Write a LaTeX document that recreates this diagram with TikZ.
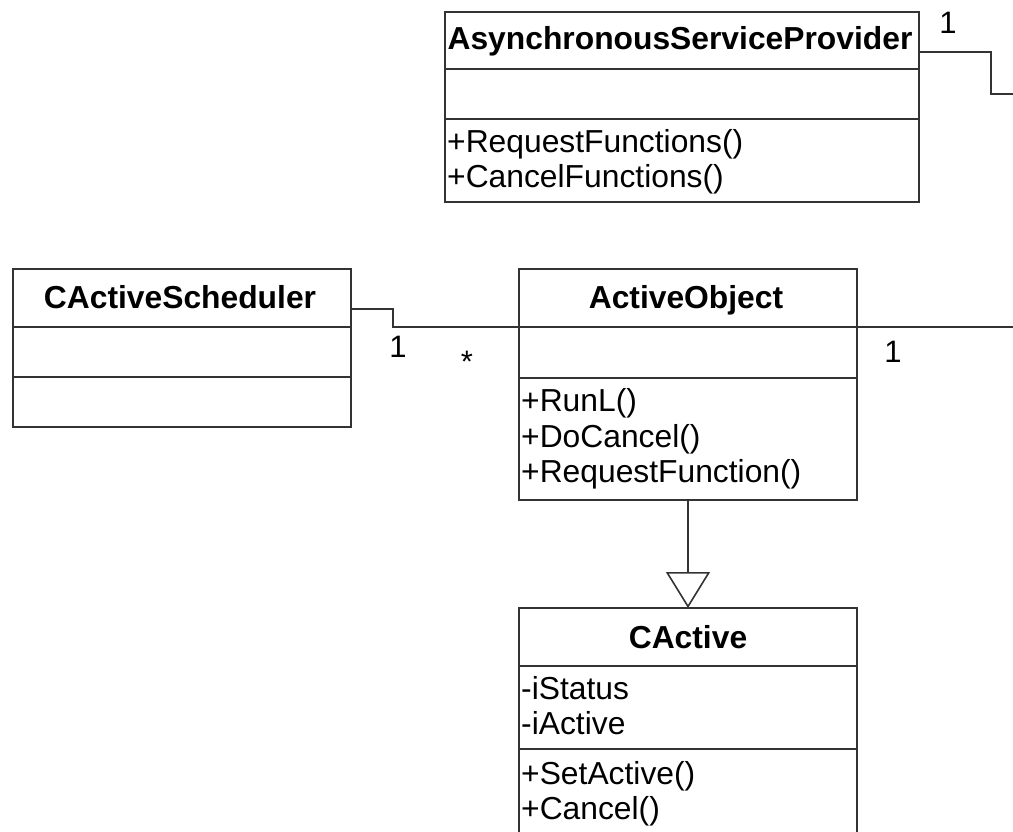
\documentclass[tikz,border=0pt]{standalone}
\usepackage{fontspec}
\setmainfont{Liberation Sans}
\usetikzlibrary{arrows.meta}
\definecolor{linegray}{HTML}{333333}
\begin{document}
\begin{tikzpicture}[x=1pt,y=-1pt,
  classbox/.style={draw=linegray, line width=1.6pt, anchor=north west,
    inner sep=0pt, outer sep=0pt},
  ctitle/.style={font=\fontsize{31.8}{36}\selectfont\bfseries, anchor=base,
    inner sep=0pt},
  member/.style={font=\fontsize{31.8}{36}\selectfont, anchor=base west,
    inner sep=0pt},
  mult/.style={font=\fontsize{31}{34}\selectfont, anchor=base, inner sep=0pt},
  link/.style={draw=linegray, line width=1.6pt},
  compartment/.style={draw=linegray, line width=1.6pt},
]
\useasboundingbox[fill=white] (0,0) rectangle (1013,831);

% ---- AsynchronousServiceProvider
\node[classbox, minimum width=474pt, minimum height=190pt] (asp) at (445,12) {};
\draw[compartment] (asp.west |- 0,69) -- (asp.east |- 0,69);
\draw[compartment] (asp.west |- 0,119) -- (asp.east |- 0,119);
\node[ctitle] (aspTitle) at (680,49) {AsynchronousServiceProvider};
\node[member] (aspM1) at (447,152) {+RequestFunctions()};
\node[member] (aspM2) at (447,187) {+CancelFunctions()};

% ---- CActiveScheduler
\node[classbox, minimum width=338pt, minimum height=158pt] (sch) at (13,269) {};
\draw[compartment] (sch.west |- 0,327) -- (sch.east |- 0,327);
\draw[compartment] (sch.west |- 0,377) -- (sch.east |- 0,377);
\node[ctitle] (schTitle) at (180,308) {CActiveScheduler};

% ---- ActiveObject
\node[classbox, minimum width=338pt, minimum height=231pt] (ao) at (519,269) {};
\draw[compartment] (ao.west |- 0,327) -- (ao.east |- 0,327);
\draw[compartment] (ao.west |- 0,378) -- (ao.east |- 0,378);
\node[ctitle] (aoTitle) at (686,308) {ActiveObject};
\node[member] (aoM1) at (521,411) {+RunL()};
\node[member] (aoM2) at (521,447) {+DoCancel()};
\node[member] (aoM3) at (521,482) {+RequestFunction()};

% ---- CActive
\node[classbox, minimum width=338pt, minimum height=250pt] (ca) at (519,608) {};
\draw[compartment] (ca.west |- 0,666) -- (ca.east |- 0,666);
\draw[compartment] (ca.west |- 0,749) -- (ca.east |- 0,749);
\node[ctitle] (caTitle) at (688,648) {CActive};
\node[member] (caA1) at (521,699) {-iStatus};
\node[member] (caA2) at (521,734) {-iActive};
\node[member] (caM1) at (521,784) {+SetActive()};
\node[member] (caM2) at (521,819) {+Cancel()};

% ---- associations
\coordinate (aspEnd) at (1025,94);
\coordinate (aoEnd) at (1025,327);
\draw[link] (asp.east |- 0,52) -- (991,52) -- (991,94) -- (aspEnd);
\draw[link] (sch.east |- 0,309) -- (393,309) -- (393,327) -- (ao.west |- 0,327);
\draw[link] (ao.east |- 0,327) -- (aoEnd);

\node[mult] (mAsp) at (948,33) {1};
\node[mult] (mSch) at (398,357) {1};
\node[mult] (mAoL) at (467,372) {*};
\node[mult] (mAoR) at (893,362) {1};

% ---- generalization
\draw[link, -{Triangle[open, length=36pt, width=44pt, line width=1.6pt]}]
  (ao.south) -- (ca.north);
\end{tikzpicture}
\end{document}
